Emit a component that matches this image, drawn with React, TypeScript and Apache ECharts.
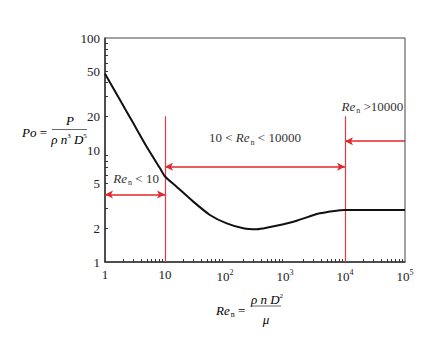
import React, { useEffect, useRef } from "react";
import * as echarts from "echarts";

const reValues = [1, 1.78, 2.97, 4.95, 8.26, 10, 15.6, 29.6, 56, 107, 202, 337, 492, 1380, 3800, 10000, 100000];
const poValues = [48, 27.9, 17.3, 10.7, 6.87, 5.8, 4.7, 3.46, 2.63, 2.21, 2.0, 1.96, 2.02, 2.29, 2.72, 2.92, 2.92];

const xLabelValues = [1, 10, 100, 1000, 10000, 100000];
const xTickValues = [
  2, 3, 4, 5, 6, 7, 8, 9,
  20, 30, 40, 50, 60, 70, 80, 90,
  200, 300, 400, 500, 600, 700, 800, 900,
  2000, 3000, 4000, 5000, 6000, 7000, 8000, 9000,
  20000, 30000, 40000, 50000, 60000, 70000, 80000, 90000,
];
const yLabelValues = [1, 2, 5, 10, 20, 50, 100];
const yTickValues = [2, 3, 4, 5, 6, 7, 8, 9, 20, 30, 40, 50, 60, 70, 80, 90];

// regime boundaries and annotation positions (data space)
const boundaries = [10, 10000];
const boundaryTop = 20;
const lowArrow = { from: 1, to: 10, y: 4 };
const midArrow = { from: 10, to: 10000, y: 7.1 };
const highArrow = { from: 100000, to: 10000, y: 12 };
const regimeLabels = [
  { x: 3.3, y: 5.6, text: "{i|Re}{s|n}{t| < 10}" },
  { x: 316, y: 12.8, text: "{t|10 < }{i|Re}{s|n}{t| < 10000}" },
  { x: 28700, y: 24.7, text: "{i|Re}{s|n}{t| >10000}" },
];

const SERIF = '"Liberation Serif", "Times New Roman", "DejaVu Serif", serif';
const RED = "#e2262b";
const VRED = "#e03a44";

export default function App() {
  const ref = useRef<HTMLDivElement>(null);
  useEffect(() => {
    document.body.style.margin = "0";
    const chart = echarts.init(ref.current!, null, { renderer: "svg" });
    const rich = {
      i: { fontFamily: SERIF, fontStyle: "italic", fontSize: 13, color: "#333" },
      s: { fontFamily: SERIF, fontSize: 8, color: "#333", padding: [9, 0, 0, 1] },
      t: { fontFamily: SERIF, fontSize: 13, color: "#333" },
    };
    const xRich = {
      b: { fontFamily: SERIF, fontSize: 13, color: "#222" },
      p: { fontFamily: SERIF, fontSize: 8, color: "#222", padding: [0, 0, 8, 0] },
    };
    const supRich = {
      ...rich,
      p: { fontFamily: SERIF, fontSize: 7, color: "#333", padding: [0, 0, 7, 0] },
    };
    const arrowPt = (x: number, y: number, arrow: boolean) => ({
      coord: [x, y],
      symbol: arrow ? "arrow" : "none",
      symbolSize: [6, 8],
      lineStyle: { color: RED, width: 1.5, type: "solid" },
    });
    const vLineStyle = { color: VRED, width: 1.2, type: "solid", opacity: 1 };
    const option: any = {
      animation: false,
      grid: {
        left: 105,
        right: 35,
        top: 38,
        bottom: 101,
        show: true,
        borderColor: "#444",
        borderWidth: 1,
        backgroundColor: "transparent",
        outerBoundsMode: "none",
      },
      xAxis: {
        type: "log",
        logBase: 10,
        min: 1,
        max: 100000,
        axisLine: { show: true, lineStyle: { color: "#333", width: 1.5 } },
        splitLine: { show: false },
        axisTick: {
          show: true,
          inside: true,
          length: 3,
          customValues: xTickValues,
          lineStyle: { color: "#333" },
        },
        axisLabel: {
          customValues: xLabelValues,
          margin: 6,
          formatter: (v: number) => {
            const e = Math.round(Math.log10(v));
            if (e === 0) return "{b|1}";
            if (e === 1) return "{b|10}";
            return "{b|10}{p|" + e + "}";
          },
          rich: xRich,
        },
      },
      yAxis: {
        type: "log",
        logBase: 10,
        min: 1,
        max: 100,
        axisLine: { show: true, lineStyle: { color: "#333", width: 1.5 } },
        splitLine: { show: false },
        axisTick: {
          show: true,
          inside: true,
          length: 3,
          customValues: yTickValues,
          lineStyle: { color: "#333" },
        },
        axisLabel: {
          customValues: yLabelValues,
          margin: 5,
          fontFamily: SERIF,
          fontSize: 13,
          color: "#222",
          formatter: (v: number) => String(Math.round(v)),
        },
      },
      series: [
        {
          type: "line",
          data: reValues.map((x, i) => [x, poValues[i]]),
          smooth: 0.2,
          showSymbol: false,
          symbol: "none",
          lineStyle: { color: "#111", width: 2 },
          z: 5,
          markLine: {
            silent: true,
            label: { show: false },
            symbol: ["none", "none"],
            data: [
              [
                arrowPt(lowArrow.from, lowArrow.y, true),
                arrowPt(lowArrow.to, lowArrow.y, true),
              ],
              [
                arrowPt(midArrow.from, midArrow.y, true),
                arrowPt(midArrow.to, midArrow.y, true),
              ],
              [
                arrowPt(highArrow.from, highArrow.y, false),
                arrowPt(highArrow.to, highArrow.y, true),
              ],
            ],
          },
          markPoint: {
            silent: true,
            symbol: "circle",
            symbolSize: 0,
            data: regimeLabels.map((r) => ({
              coord: [r.x, r.y],
              label: {
                show: true,
                position: "inside",
                formatter: r.text,
                rich,
              },
            })),
          },
        },
        {
          type: "line",
          data: [],
          z: 4,
          silent: true,
          markLine: {
            silent: true,
            label: { show: false },
            symbol: ["none", "none"],
            lineStyle: vLineStyle,
            data: boundaries.map((b) => [
              { coord: [b, 1], lineStyle: vLineStyle },
              { coord: [b, boundaryTop], lineStyle: vLineStyle },
            ]),
          },
        },
      ],
      graphic: [
        // y-axis name: Po = P / (rho n^3 D^5)
        {
          type: "text",
          x: 22,
          y: 132,
          style: {
            text: "{i|Po} {t|=}",
            rich,
            verticalAlign: "middle",
          },
        },
        {
          type: "text",
          x: 70,
          y: 120,
          style: {
            text: "{i|P}",
            rich,
            align: "center",
            verticalAlign: "middle",
          },
        },
        {
          type: "line",
          shape: { x1: 52, y1: 129.5, x2: 87, y2: 129.5 },
          style: { stroke: "#444", lineWidth: 0.8 },
        },
        {
          type: "text",
          x: 69,
          y: 139,
          style: {
            text: "{i|ρ n}{p|3}{i| D}{p|5}",
            rich: supRich,
            align: "center",
            verticalAlign: "middle",
          },
        },
        // x-axis name: Re_n = rho n D^2 / mu
        {
          type: "text",
          x: 216,
          y: 310,
          style: {
            text: "{i|Re}{s|n}{t| =}",
            rich,
            verticalAlign: "middle",
          },
        },
        {
          type: "text",
          x: 267,
          y: 299,
          style: {
            text: "{i|ρ n D}{p|2}",
            rich: supRich,
            align: "center",
            verticalAlign: "middle",
          },
        },
        {
          type: "line",
          shape: { x1: 252, y1: 306, x2: 281, y2: 306 },
          style: { stroke: "#444", lineWidth: 0.8 },
        },
        {
          type: "text",
          x: 266,
          y: 319,
          style: {
            text: "{i|μ}",
            rich,
            align: "center",
            verticalAlign: "middle",
          },
        },
      ],
    };
    chart.setOption(option);
    return () => chart.dispose();
  }, []);
  return <div ref={ref} style={{ width: 440, height: 363 }} />;
}
